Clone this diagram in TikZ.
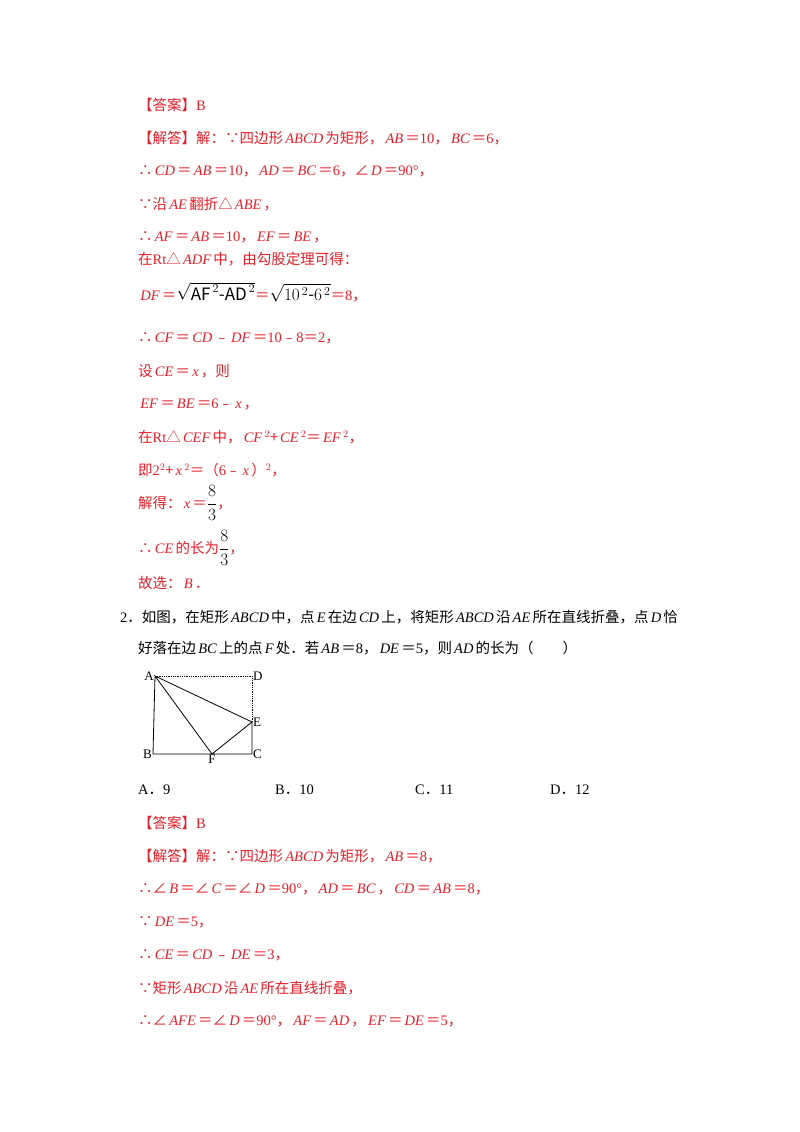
\documentclass[tikz,border=0pt]{standalone}
\usepackage{fontspec}
\usepackage{amsmath}
\setmainfont{Noto Sans CJK SC}
\newfontfamily\tm{Liberation Serif}
\newcommand\V[1]{\hspace{0.15em}{\tm\itshape #1}\hspace{0.15em}}
\newcommand\R[1]{{\tm #1}}
\newcommand\BM[1]{{\color{black}\fontsize{17}{19}\selectfont$#1$}}
\definecolor{ans}{RGB}{230,30,40}
\begin{document}
\begin{tikzpicture}[x=1pt,y=-1pt,
  ln/.style={anchor=west,inner sep=0pt,font=\fontsize{14.5}{16}\selectfont,text=ans},
  bk/.style={ln,text=black},
  lab/.style={inner sep=1pt,font=\tm\fontsize{13}{14}\selectfont}]
\useasboundingbox (0,0) rectangle (800,1132);
\node[ln] (l1) at (138,105) {【答案】\R{B}};
\node[ln] (l2) at (138,138) {【解答】解：∵四边形\V{ABCD}为矩形，\V{AB}＝\R{10}，\V{BC}＝\R{6}，};
\node[ln] (l3) at (138,171) {∴\V{CD}＝\V{AB}＝\R{10}，\V{AD}＝\V{BC}＝\R{6}，∠\V{D}＝\R{90°}，};
\node[ln] (l4) at (138,204) {∵沿\V{AE}翻折△\V{ABE}，};
\node[ln] (l5) at (138,237) {∴\V{AF}＝\V{AB}＝\R{10}，\V{EF}＝\V{BE}，};
\node[ln] (l6) at (138,259) {在\R{Rt}△\V{ADF}中，由勾股定理可得：};
\node[ln] (l7) at (138,292) {\V{DF}＝\BM{\sqrt{\mathrm{AF}^{\,2}\text{-}\mathrm{AD}^{\,2}}}＝\BM{\sqrt{10^{\,2}\text{-}6^{\,2}}}＝\R{8}，};
\node[ln] (l8) at (138,338) {∴\V{CF}＝\V{CD}﹣\V{DF}＝\R{10}﹣\R{8}＝\R{2}，};
\node[ln] (l9) at (138,371) {设\V{CE}＝\V{x}，则};
\node[ln] (l10) at (138,404) {\V{EF}＝\V{BE}＝\R{6}﹣\V{x}，};
\node[ln] (l11) at (138,437) {在\R{Rt}△\V{CEF}中，\V{CF}$^2$+\V{CE}$^2$＝\V{EF}$^2$，};
\node[ln] (l12) at (138,470) {即\R{2}$^2$+\V{x}$^2$＝（\R{6}﹣\V{x}）$^2$，};
\node[ln] (l13) at (138,503) {解得：\V{x}＝\BM{\dfrac{8}{3}}，};
\node[ln] (l14) at (138,548) {∴\V{CE}的长为\BM{\dfrac{8}{3}}，};
\node[ln] (l15) at (138,583) {故选：\V{B}．};
\node[bk] (q1) at (120,617) {\R{2}．如图，在矩形\V{ABCD}中，点\V{E}在边\V{CD}上，将矩形\V{ABCD}沿\V{AE}所在直线折叠，点\V{D}恰};
\node[bk] (q2) at (138,648) {好落在边\V{BC}上的点\V{F}处．若\V{AB}＝\R{8}，\V{DE}＝\R{5}，则\V{AD}的长为（\quad\quad）};
\coordinate (A) at (155,676);
\coordinate (D) at (252,676);
\coordinate (E) at (252,722);
\coordinate (C) at (252,754);
\coordinate (B) at (153,754);
\coordinate (F) at (212,754);
\draw[thick] (A) -- (B) -- (C) -- (E) -- (A) -- (F) -- (E);
\draw[thick,densely dotted] (A) -- (D) -- (E);
\node[lab,anchor=east] (nA) at (A) {A};
\node[lab,anchor=west] (nD) at (D) {D};
\node[lab,anchor=west] (nE) at (E) {E};
\node[lab,anchor=west] (nC) at (C) {C};
\node[lab,anchor=east] (nB) at (B) {B};
\node[lab,anchor=north] (nF) at (F) {F};
\node[bk] (o1) at (138,790) {\R{A}．\R{9}};
\node[bk] (o2) at (275,790) {\R{B}．\R{10}};
\node[bk] (o3) at (415,790) {\R{C}．\R{11}};
\node[bk] (o4) at (550,790) {\R{D}．\R{12}};
\node[ln] (m1) at (138,823) {【答案】\R{B}};
\node[ln] (m2) at (138,856) {【解答】解：∵四边形\V{ABCD}为矩形，\V{AB}＝\R{8}，};
\node[ln] (m3) at (138,889) {∴∠\V{B}＝∠\V{C}＝∠\V{D}＝\R{90°}，\V{AD}＝\V{BC}，\V{CD}＝\V{AB}＝\R{8}，};
\node[ln] (m4) at (138,922) {∵\V{DE}＝\R{5}，};
\node[ln] (m5) at (138,955) {∴\V{CE}＝\V{CD}﹣\V{DE}＝\R{3}，};
\node[ln] (m6) at (138,988) {∵矩形\V{ABCD}沿\V{AE}所在直线折叠，};
\node[ln] (m7) at (138,1021) {∴∠\V{AFE}＝∠\V{D}＝\R{90°}，\V{AF}＝\V{AD}，\V{EF}＝\V{DE}＝\R{5}，};
\end{tikzpicture}
\end{document}
